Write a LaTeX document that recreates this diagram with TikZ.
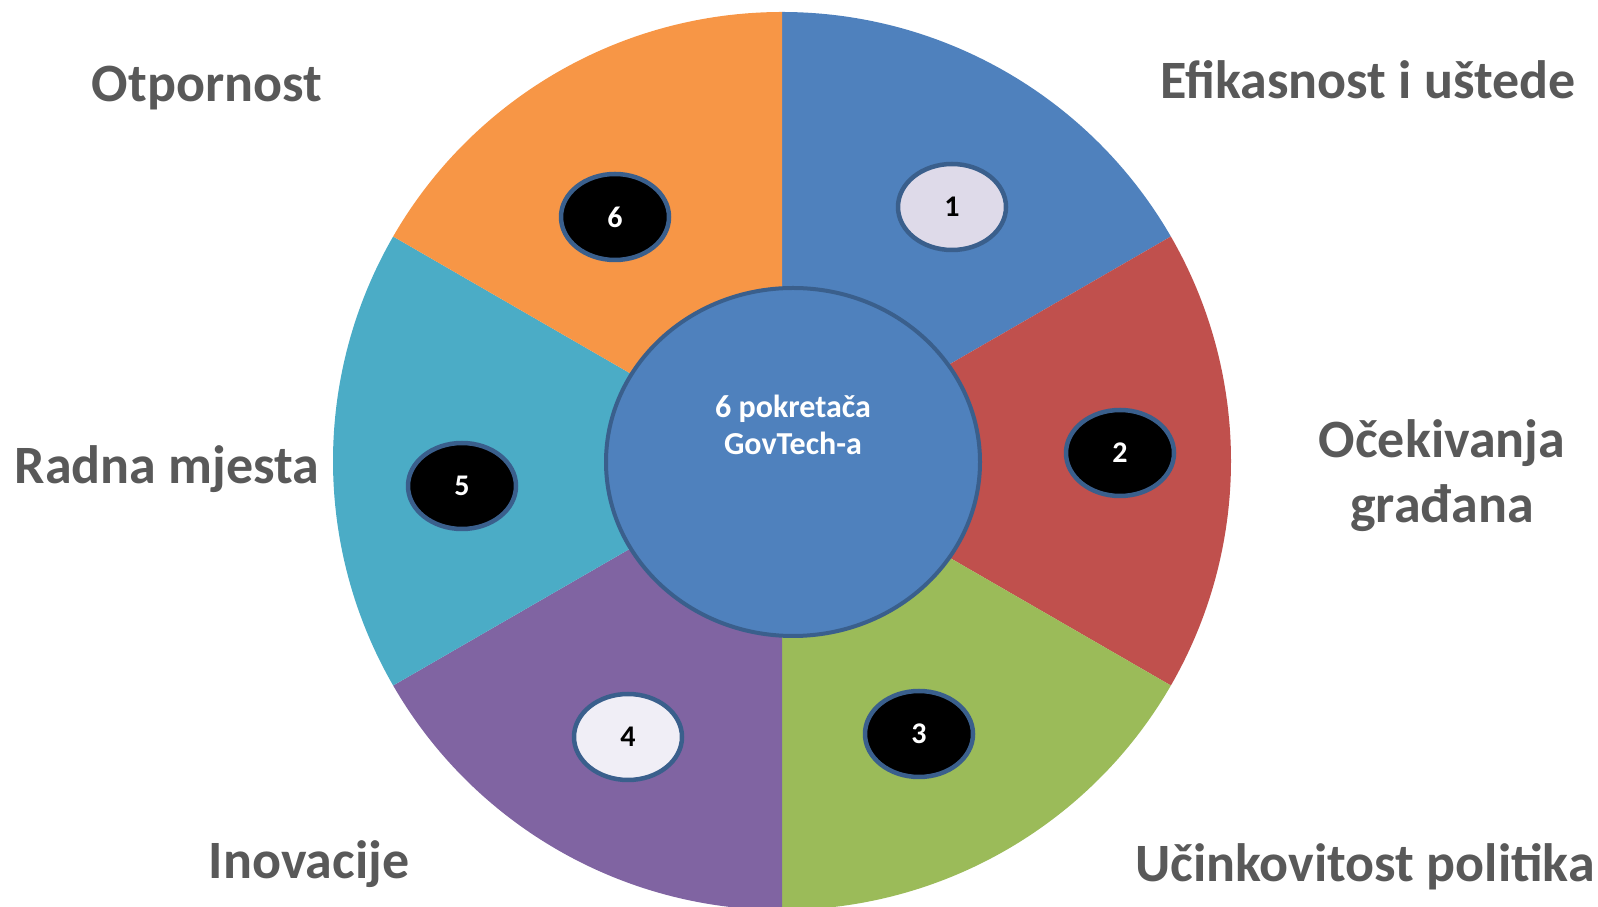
\documentclass[tikz,border=0pt]{standalone}
\usepackage{fontspec}
\setmainfont{Carlito}
\usetikzlibrary{shapes.geometric}
\definecolor{sblue}{HTML}{4F81BD}
\definecolor{sred}{HTML}{C0504D}
\definecolor{sgreen}{HTML}{9BBB59}
\definecolor{spurple}{HTML}{8064A2}
\definecolor{steal}{HTML}{4BACC6}
\definecolor{sorange}{HTML}{F79646}
\definecolor{rimblue}{HTML}{3A5F8C}
\definecolor{labelgray}{HTML}{595959}
\definecolor{lightlav}{HTML}{DEDAE9}
\definecolor{paler}{HTML}{F0EEF6}
\tikzset{
  badge/.style={ellipse, draw=rimblue, line width=4.5pt, minimum width=108pt, minimum height=86pt, inner sep=0pt, font=\bfseries\fontsize{30}{33}\selectfont},
  darkbadge/.style={badge, fill=black, text=white},
  lightbadge/.style={badge, text=black},
  outlabel/.style={text=labelgray, font=\bfseries\fontsize{54}{64}\selectfont, inner sep=0pt, anchor=base},
  hubtext/.style={text=white, font=\bfseries\fontsize{32}{37}\selectfont, anchor=base, inner sep=0pt},
  hub/.style={ellipse, draw=rimblue, line width=4pt, fill=sblue, minimum width=374pt, minimum height=348pt, inner sep=0pt}
}
\begin{document}
\begin{tikzpicture}[x=1pt,y=1pt]
\useasboundingbox (0,0) rectangle (1598,907);
\clip (0,0) rectangle (1598,907);
\coordinate (c) at (782,446);
% sectors
\fill[sblue]   (c) -- ++(30:449)  arc (30:90:449)   -- cycle;
\fill[sred]    (c) -- ++(-30:449) arc (-30:30:449)  -- cycle;
\fill[sgreen]  (c) -- ++(-90:449) arc (-90:-30:449) -- cycle;
\fill[spurple] (c) -- ++(210:449) arc (210:270:449) -- cycle;
\fill[steal]   (c) -- ++(150:449) arc (150:210:449) -- cycle;
\fill[sorange] (c) -- ++(90:449)  arc (90:150:449)  -- cycle;
% hub
\node[hub] (hub) at (793,445) {};
\node[hubtext] (t1) at (793,489) {6 pokretača};
\node[hubtext] (t2) at (793,452) {GovTech-a};
% badges
\node[lightbadge, fill=lightlav] (b1) at (952,700) {1};
\node[darkbadge] (b2) at (1120,454) {2};
\node[darkbadge] (b3) at (919,173) {3};
\node[lightbadge, fill=paler] (b4) at (628,170) {4};
\node[darkbadge] (b5) at (462,421) {5};
\node[darkbadge] (b6) at (615,690) {6};
% labels
\node[outlabel] (l6) at (207,805) {Otpornost};
\node[outlabel] (l1) at (1368,808) {Efikasnost i uštede};
\node[outlabel] (l2a) at (1442,449) {Očekivanja};
\node[outlabel] (l2b) at (1442,384) {građana};
\node[outlabel] (l5) at (167,423) {Radna mjesta};
\node[outlabel] (l4) at (309,28) {Inovacije};
\node[outlabel] (l3) at (1365,25) {Učinkovitost politika};
\end{tikzpicture}
\end{document}
